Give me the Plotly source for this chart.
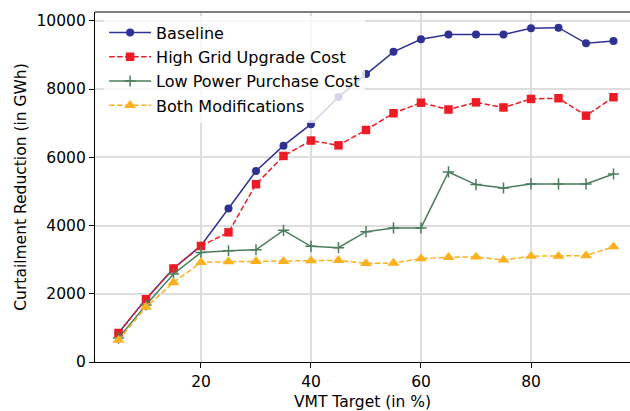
import plotly.graph_objects as go

vmt = [5, 10, 15, 20, 25, 30, 35, 40, 45, 50, 55, 60, 65, 70, 75, 80, 85, 90, 95]
baseline = [850, 1850, 2740, 3410, 4500, 5600, 6340, 6970, 7770, 8440, 9090, 9460, 9600, 9600, 9600, 9780, 9800, 9340, 9410]
high_grid = [850, 1840, 2740, 3400, 3800, 5210, 6040, 6490, 6350, 6800, 7290, 7600, 7400, 7610, 7460, 7710, 7730, 7220, 7760]
low_power = [700, 1670, 2580, 3210, 3260, 3290, 3860, 3390, 3350, 3820, 3930, 3930, 5570, 5200, 5100, 5220, 5220, 5220, 5510]
both_mod = [640, 1610, 2330, 2920, 2940, 2950, 2950, 2970, 2980, 2890, 2900, 3030, 3070, 3080, 2990, 3100, 3100, 3120, 3380]

x_ticks = [20, 40, 60, 80]
y_ticks = [0, 2000, 4000, 6000, 8000, 10000]
y_ticktext = ["0", "2000", "4000", "6000", "8000", "10000"]

series = [
    ("Baseline", baseline, "#2e3192", "solid", "circle", 8),
    ("High Grid Upgrade Cost", high_grid, "#ed1c24", "5.5px,2.5px", "square", 8.5),
    ("Low Power Purchase Cost", low_power, "#4a7c5c", "solid", "cross-thin", 8),
    ("Both Modifications", both_mod, "#fbb01f", "5.5px,2.5px", "triangle-up", 10.5),
]

FONT = "DejaVu Sans"
FS = 15.5
fig = go.Figure()
for i, (name, vals, col, dash, sym, sz) in enumerate(series):
    marker = dict(symbol=sym, size=sz, color=col, line=dict(width=0))
    if sym == "cross-thin":
        marker = dict(symbol=sym, size=sz, color=col, line=dict(width=1.5, color=col))
    fig.add_trace(go.Scatter(
        x=vmt, y=vals, name=name, mode="lines+markers",
        line=dict(color=col, width=1.5, dash=dash),
        marker=marker, legendgroup=f"g{i}",
    ))

fig.add_shape(type="line", xref="paper", yref="paper", x0=0, x1=1, y0=1, y1=1,
              line=dict(color="#555555", width=1.5))

fig.update_layout(
    width=630, height=411,
    margin=dict(l=95, r=0, t=12, b=49),
    paper_bgcolor="white", plot_bgcolor="white",
    font=dict(family=FONT, size=FS, color="black"),
    showlegend=True,
    legend=dict(x=0.017, y=0.99, xanchor="left", yanchor="top",
                bgcolor="rgba(255,255,255,0.8)", borderwidth=0,
                font=dict(family=FONT, size=16), tracegroupgap=0.5,
                traceorder="grouped", itemwidth=42),
    xaxis=dict(range=[0.73, 98.0], tickvals=x_ticks, automargin=False,
               showgrid=True, gridcolor="#dddddd", gridwidth=1.5,
               showline=True, linecolor="black", linewidth=1.3,
               ticks="outside", ticklen=5, tickcolor="black", tickwidth=1.2,
               zeroline=False,
               title=dict(text="VMT Target (in %)", font=dict(size=FS), standoff=7),
               tickfont=dict(size=FS)),
    yaxis=dict(range=[0, 10258], tickvals=y_ticks, ticktext=y_ticktext, automargin=False,
               showgrid=True, gridcolor="#dddddd", gridwidth=1.5,
               showline=True, linecolor="black", linewidth=1.3,
               ticks="outside", ticklen=5, tickcolor="black", tickwidth=1.2,
               zeroline=False,
               title=dict(text="Curtailment Reduction (in GWh)", font=dict(size=FS), standoff=6),
               tickfont=dict(size=FS)),
)

fig.write_html("out.html", config={"displayModeBar": False},
               post_script="document.body.style.margin='0';")
